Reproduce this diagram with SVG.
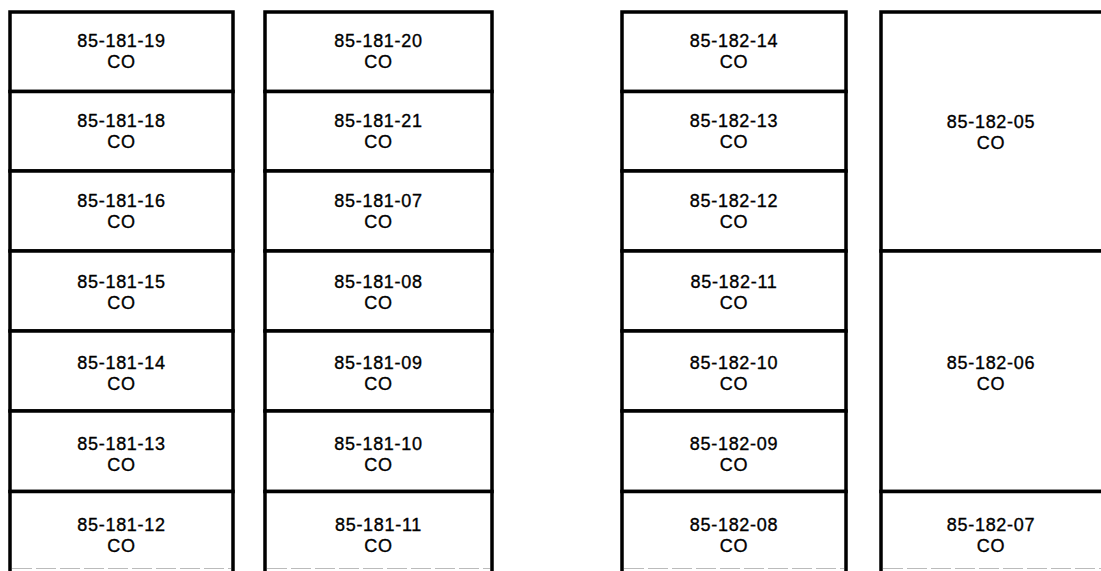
<svg xmlns="http://www.w3.org/2000/svg" width="1101" height="571" viewBox="0 0 1101 571">
<style>
.c{fill:#fff;stroke:#000;stroke-width:3.5}
.t{font-family:"Liberation Sans",Arial,sans-serif;font-size:18px;fill:#000;stroke:#000;stroke-width:0.35;text-anchor:middle;letter-spacing:0.7px}
</style>
<rect width="1101" height="571" fill="#fff"/>
<g id="col1">
<g id="n-85-181-19"><rect class="c" x="10" y="12" width="223" height="79.5"/><text class="t" x="121.5" y="47">85-181-19</text><text class="t" x="121.5" y="67.5">CO</text></g>
<g id="n-85-181-18"><rect class="c" x="10" y="91.5" width="223" height="79.5"/><text class="t" x="121.5" y="127">85-181-18</text><text class="t" x="121.5" y="147.5">CO</text></g>
<g id="n-85-181-16"><rect class="c" x="10" y="171" width="223" height="80"/><text class="t" x="121.5" y="207">85-181-16</text><text class="t" x="121.5" y="227.5">CO</text></g>
<g id="n-85-181-15"><rect class="c" x="10" y="251" width="223" height="80"/><text class="t" x="121.5" y="288">85-181-15</text><text class="t" x="121.5" y="308.5">CO</text></g>
<g id="n-85-181-14"><rect class="c" x="10" y="331" width="223" height="80"/><text class="t" x="121.5" y="369">85-181-14</text><text class="t" x="121.5" y="389.5">CO</text></g>
<g id="n-85-181-13"><rect class="c" x="10" y="411" width="223" height="80.5"/><text class="t" x="121.5" y="450">85-181-13</text><text class="t" x="121.5" y="470.5">CO</text></g>
<g id="n-85-181-12"><rect class="c" x="10" y="491.5" width="223" height="90"/><text class="t" x="121.5" y="531">85-181-12</text><text class="t" x="121.5" y="551.5">CO</text></g>
</g>
<g id="col2">
<g id="n-85-181-20"><rect class="c" x="265" y="12" width="227" height="79.5"/><text class="t" x="378.5" y="47">85-181-20</text><text class="t" x="378.5" y="67.5">CO</text></g>
<g id="n-85-181-21"><rect class="c" x="265" y="91.5" width="227" height="79.5"/><text class="t" x="378.5" y="127">85-181-21</text><text class="t" x="378.5" y="147.5">CO</text></g>
<g id="n-85-181-07"><rect class="c" x="265" y="171" width="227" height="80"/><text class="t" x="378.5" y="207">85-181-07</text><text class="t" x="378.5" y="227.5">CO</text></g>
<g id="n-85-181-08"><rect class="c" x="265" y="251" width="227" height="80"/><text class="t" x="378.5" y="288">85-181-08</text><text class="t" x="378.5" y="308.5">CO</text></g>
<g id="n-85-181-09"><rect class="c" x="265" y="331" width="227" height="80"/><text class="t" x="378.5" y="369">85-181-09</text><text class="t" x="378.5" y="389.5">CO</text></g>
<g id="n-85-181-10"><rect class="c" x="265" y="411" width="227" height="80.5"/><text class="t" x="378.5" y="450">85-181-10</text><text class="t" x="378.5" y="470.5">CO</text></g>
<g id="n-85-181-11"><rect class="c" x="265" y="491.5" width="227" height="90"/><text class="t" x="378.5" y="531">85-181-11</text><text class="t" x="378.5" y="551.5">CO</text></g>
</g>
<g id="col3">
<g id="n-85-182-14"><rect class="c" x="622" y="12" width="224" height="79.5"/><text class="t" x="734" y="47">85-182-14</text><text class="t" x="734" y="67.5">CO</text></g>
<g id="n-85-182-13"><rect class="c" x="622" y="91.5" width="224" height="79.5"/><text class="t" x="734" y="127">85-182-13</text><text class="t" x="734" y="147.5">CO</text></g>
<g id="n-85-182-12"><rect class="c" x="622" y="171" width="224" height="80"/><text class="t" x="734" y="207">85-182-12</text><text class="t" x="734" y="227.5">CO</text></g>
<g id="n-85-182-11"><rect class="c" x="622" y="251" width="224" height="80"/><text class="t" x="734" y="288">85-182-11</text><text class="t" x="734" y="308.5">CO</text></g>
<g id="n-85-182-10"><rect class="c" x="622" y="331" width="224" height="80"/><text class="t" x="734" y="369">85-182-10</text><text class="t" x="734" y="389.5">CO</text></g>
<g id="n-85-182-09"><rect class="c" x="622" y="411" width="224" height="80.5"/><text class="t" x="734" y="450">85-182-09</text><text class="t" x="734" y="470.5">CO</text></g>
<g id="n-85-182-08"><rect class="c" x="622" y="491.5" width="224" height="90"/><text class="t" x="734" y="531">85-182-08</text><text class="t" x="734" y="551.5">CO</text></g>
</g>
<g id="col4">
<g id="n-85-182-05"><rect class="c" x="881" y="12" width="240" height="239"/><text class="t" x="991" y="128">85-182-05</text><text class="t" x="991" y="148.5">CO</text></g>
<g id="n-85-182-06"><rect class="c" x="881" y="251" width="240" height="240.5"/><text class="t" x="991" y="369">85-182-06</text><text class="t" x="991" y="389.5">CO</text></g>
<g id="n-85-182-07"><rect class="c" x="881" y="491.5" width="240" height="90"/><text class="t" x="991" y="531">85-182-07</text><text class="t" x="991" y="551.5">CO</text></g>
</g>
<g id="connectors"></g>
<g id="bottom-edge" stroke="#bbb" stroke-width="1" stroke-dasharray="20 4">
<line x1="12" y1="568.5" x2="231" y2="568.5"/>
<line x1="267" y1="568.5" x2="490" y2="568.5"/>
<line x1="624" y1="568.5" x2="844" y2="568.5"/>
<line x1="883" y1="568.5" x2="1101" y2="568.5"/>
</g>
</svg>
